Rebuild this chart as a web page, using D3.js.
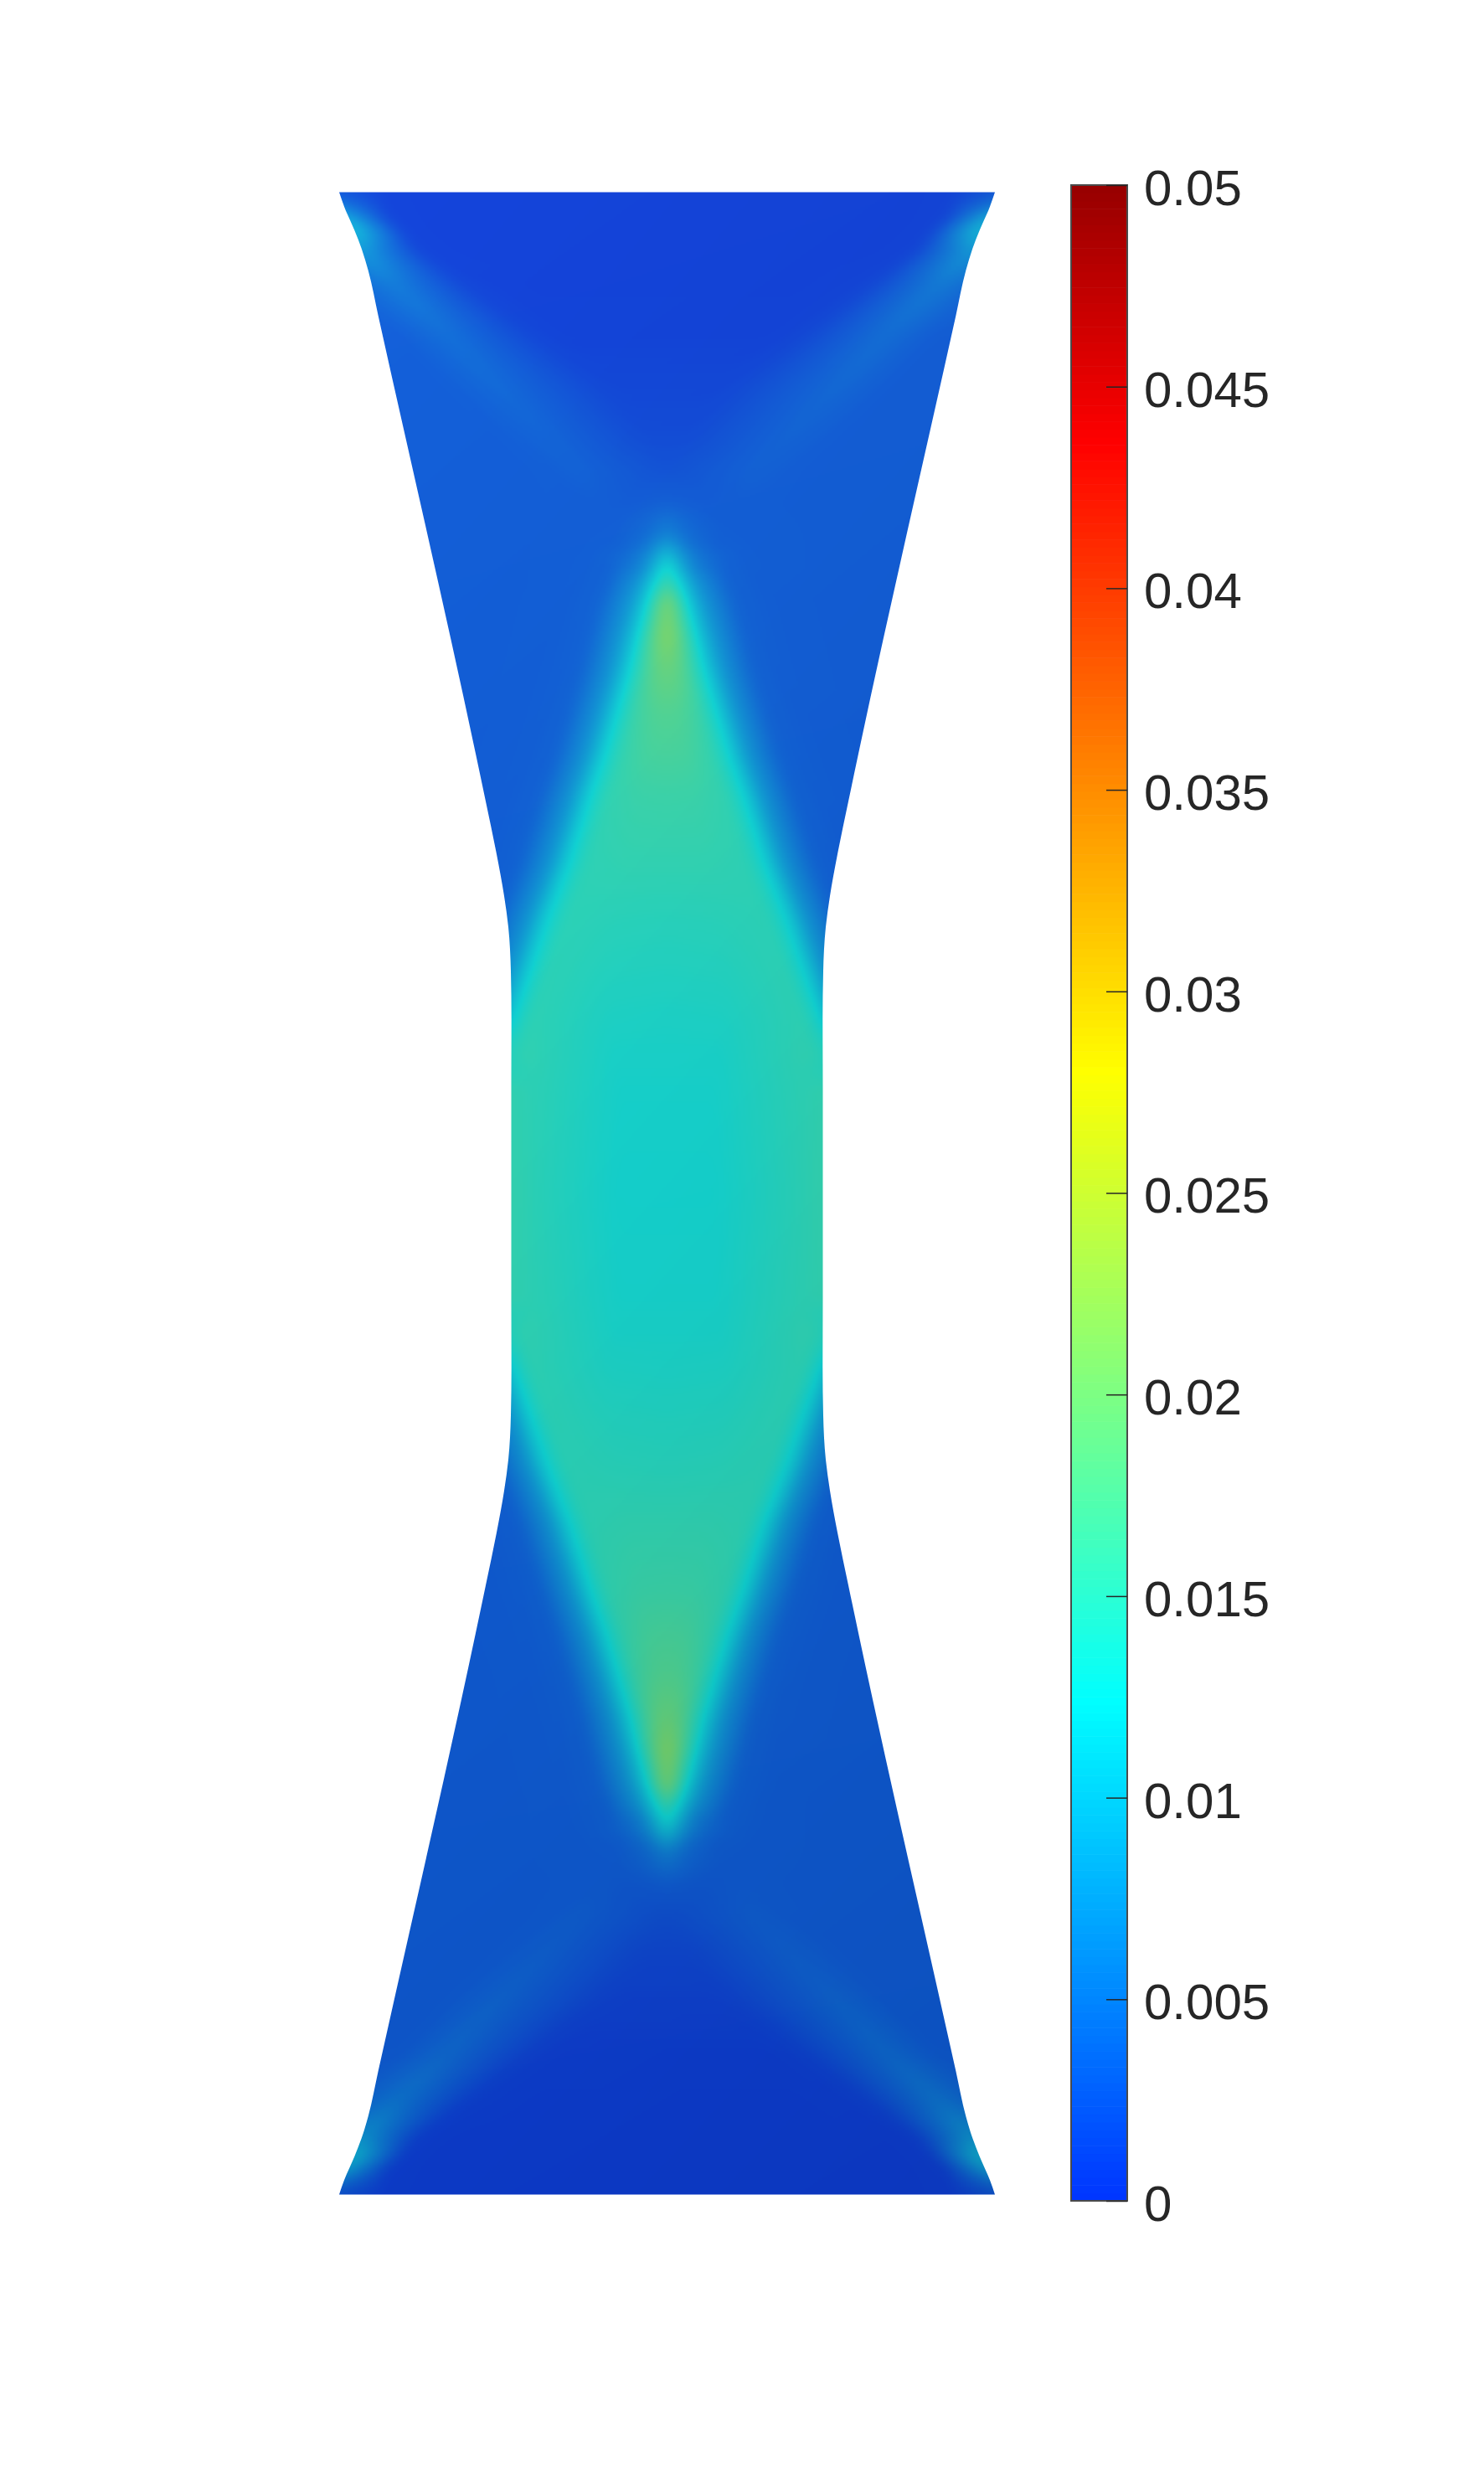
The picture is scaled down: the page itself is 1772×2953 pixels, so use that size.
<!DOCTYPE html>
<html>
<head>
<meta charset="utf-8">
<script src="https://cdn.jsdelivr.net/npm/d3@7"></script>
<style>
html,body{margin:0;padding:0;background:#fff}
svg{display:block}
</style>
</head>
<body>
<svg id="chart" width="1772" height="2953"></svg>
<script>
// ---------- colour bar ----------
const tickValues = [0,0.005,0.01,0.015,0.02,0.025,0.03,0.035,0.04,0.045,0.05];
const tickLabels = ["0","0.005","0.01","0.015","0.02","0.025","0.03","0.035","0.04","0.045","0.05"];
const colormapValues = [0,0.0124,0.0202,0.028,0.0436,0.05];
const colormapColors = ["#0034ff","#00ffff","#80ff80","#ffff00","#ff0000","#960000"];

// ---------- specimen outline (distance from top, half width) ----------
const outlineY = [0,1.72,4.55,6.72,9.35,14.72,67.05,72.75,79.05,84.05,87.75,93.05,98.75,107.05,119.55];
const outlineHalfWidth = [39.15,38.55,37.32,36.48,35.68,34.49,22.85,21.65,20.35,19.45,18.95,18.65,18.58,18.6,18.6];
const specimenHeight = 239.1;

// ---------- field mesh, upper half: row position, node offsets from axis, node values ----------
const meshRowY = [0,3.05,4.55,7.05,11.05,17.05,23.05,29.05,33.05,37.05,39.05,41.05,42.55,44.35,46.55,49.05,53.05,57.05,62.05,67.05,72.05,80.05,87.05,95.05,99.05,103.05,107.05,113.05,119.55];
const meshU = [
[0,6,12,18,24,30,34,43.3,47,60],
[0,6,12,18,24,29,33.3,38.8,42,60],
[0,6,12,18,24,28,31.6,37.3,40,60],
[0,5,10,15,20,25,29.5,36.3,41,60],
[0,4,8,12,16,20,24,32.3,37.3,60],
[0,3,6,9,12,14,16,26,32,60],
[0,1.5,3,4.5,6,7.2,8.5,20.3,26.5,60],
[0,0.6,1.2,1.8,2.4,3,3.5,14.3,20.5,60],
[0,0.8,1.6,2.4,3.2,4.4,5.5,10.3,16.5,60],
[0,0.8,1.5,3,4.5,5.5,6.5,8,15,60],
[0,0.8,1.5,3,6,8.5,9.5,11,17,60],
[0,0.8,1.5,3,6,9,10,12,18,60],
[0,0.8,1.5,3,6,9,10,12,18,60],
[0,0.3,0.6,1.5,3.2,6.6,9.5,12,18,60],
[0,0.3,0.7,1.5,3.4,7.2,10,12.5,18,60],
[0,0.6,1.3,2.4,4.5,8.2,11,14,19,60],
[0,0.8,1.8,3.5,5.7,9.3,12,15,20,60],
[0,1,2.4,4.5,6.7,10.3,13,16,21,60],
[0,1.5,3.8,6,8.2,11.8,14.5,17.5,22,60],
[0,2.5,5.3,7.5,9.7,13.3,16,19,24,60],
[0,3.5,7.1,9.3,11.5,15.1,17.8,20.8,26,60],
[0,4.8,9.6,11.8,14,17.6,20.3,23.3,28,60],
[0,6,12.2,14.5,16.7,20.3,23,26,30,60],
[0,7,15,17.2,19.4,23,25.5,28.5,32,60],
[0,7,16.4,18.6,20.8,24.4,26.5,29.5,33,60],
[0,6.5,17,20.5,22.6,26.2,28.5,31.5,35,60],
[0,6,15,18.6,23,30,34,38,42,60],
[0,6,15,18.6,23,30,34,38,42,60],
[0,6,15,18.6,23,30,34,38,42,60]
];
const meshV = [
[0.0006,0.0006,0.0006,0.0006,0.0006,0.0006,0.0007,0.003,0.003,0.003],
[0.0006,0.0006,0.0006,0.0006,0.0006,0.0006,0.0008,0.0095,0.005,0.005],
[0.0006,0.0006,0.0006,0.0006,0.0006,0.0006,0.0008,0.0105,0.005,0.005],
[0.0006,0.0006,0.0006,0.0006,0.0006,0.0006,0.0008,0.0075,0.0048,0.0045],
[0.0006,0.0006,0.0006,0.0006,0.0006,0.0007,0.0009,0.0052,0.0036,0.003],
[0.0007,0.0007,0.0007,0.0007,0.0007,0.0008,0.001,0.0042,0.0028,0.0028],
[0.001,0.001,0.001,0.001,0.001,0.0011,0.0012,0.0038,0.0028,0.0028],
[0.0014,0.0014,0.0014,0.0014,0.0014,0.0015,0.0015,0.0034,0.0028,0.0028],
[0.002,0.002,0.0021,0.0022,0.0023,0.0025,0.0026,0.0032,0.0028,0.0028],
[0.003,0.003,0.0029,0.0028,0.0027,0.0028,0.0028,0.0029,0.0028,0.0028],
[0.0046,0.0043,0.004,0.0034,0.0029,0.0029,0.0029,0.0029,0.0028,0.0028],
[0.006,0.0055,0.0048,0.0039,0.003,0.0029,0.0029,0.0029,0.0028,0.0028],
[0.009,0.0082,0.0068,0.0045,0.0031,0.003,0.0029,0.0029,0.0028,0.0028],
[0.0124,0.012,0.0114,0.009,0.0055,0.0033,0.003,0.0029,0.0028,0.0028],
[0.0158,0.0152,0.014,0.0122,0.0075,0.0034,0.003,0.0029,0.0028,0.0028],
[0.0202,0.0192,0.0166,0.0122,0.0075,0.0034,0.003,0.0029,0.0028,0.0028],
[0.0212,0.0202,0.0176,0.0122,0.0075,0.0034,0.003,0.0029,0.0028,0.0028],
[0.0192,0.019,0.0168,0.0122,0.0075,0.0034,0.003,0.0029,0.0028,0.0028],
[0.0176,0.0174,0.0158,0.0122,0.0075,0.0034,0.003,0.0029,0.0028,0.0028],
[0.0168,0.0166,0.0152,0.0122,0.0075,0.0034,0.003,0.0029,0.0028,0.0028],
[0.0158,0.0157,0.015,0.0122,0.0075,0.0034,0.003,0.0029,0.0028,0.0028],
[0.015,0.015,0.0147,0.0122,0.0075,0.0034,0.003,0.0029,0.0028,0.0028],
[0.0142,0.0143,0.0146,0.0122,0.0075,0.0034,0.003,0.0029,0.0028,0.0028],
[0.0136,0.0137,0.0147,0.0122,0.0075,0.0034,0.003,0.0029,0.0028,0.0028],
[0.0133,0.0134,0.0148,0.0122,0.0075,0.0034,0.003,0.0029,0.0028,0.0028],
[0.0131,0.0131,0.015,0.0132,0.0085,0.0034,0.003,0.0029,0.0028,0.0028],
[0.0129,0.0129,0.0145,0.015,0.015,0.015,0.015,0.015,0.015,0.015],
[0.0128,0.0128,0.0144,0.0151,0.015,0.015,0.015,0.015,0.015,0.015],
[0.0127,0.0127,0.0143,0.0152,0.015,0.015,0.015,0.015,0.015,0.015]
];

// ---------- scales ----------
const xScale = d3.scaleLinear().domain([-39.15,39.15]).range([405,1188]);
const yScale = d3.scaleLinear().domain([0,specimenHeight]).range([229.5,2620.5]);
const colorScale = d3.scaleLinear().domain(colormapValues).range(colormapColors).interpolate(d3.interpolateRgb).clamp(true);
const barScale = d3.scaleLinear().domain([0,0.05]).range([2628,221]);
const gainScale = d3.scaleLinear().domain([0,specimenHeight]).range([0.776,0.718]);
const liftScale = d3.scaleLinear().domain([0,specimenHeight]).range([20,12]);
const sideScale = d3.scaleLinear().domain([-39.15,39.15]).range([1.01,0.97]);

const svg = d3.select("#chart");

// ---------- outline ----------
const outlineRows = outlineY.map((y,i)=>({y,h:outlineHalfWidth[i]}));
const fullOutline = outlineRows.concat(outlineRows.slice(0,-1).reverse().map(d=>({y:specimenHeight-d.y,h:d.h})));
const outlinePath = d3.area().curve(d3.curveMonotoneY)
  .y(d=>yScale(d.y)).x0(d=>xScale(-d.h)).x1(d=>xScale(d.h))(fullOutline);
svg.append("defs").append("clipPath").attr("id","specimen").append("path").attr("d",outlinePath);

// ---------- field ----------
const allRows = meshRowY.map((y,i)=>({y,u:meshU[i],v:meshV[i]}));
const meshRows = allRows.concat(allRows.slice(0,-1).reverse().map(d=>({y:specimenHeight-d.y,u:d.u,v:d.v})));
const rowBisect = d3.bisector(d=>d.y).right;

const step = 2, px0 = 398, py0 = 224;
const W = Math.ceil((1196-px0)/step), H = Math.ceil((2628-py0)/step);
let field = new Float32Array(W*H);
for(let j=0;j<H;j++){
  const y = Math.max(0,Math.min(specimenHeight,yScale.invert(py0+step*(j+.5))));
  const k = Math.min(meshRows.length-2,Math.max(0,rowBisect(meshRows,y)-1));
  const a = meshRows[k], b = meshRows[k+1], t = (y-a.y)/(b.y-a.y);
  const profile = d3.scaleLinear()
    .domain(a.u.map((u,i)=>u+(b.u[i]-u)*t))
    .range(a.v.map((v,i)=>v+(b.v[i]-v)*t)).clamp(true);
  for(let i=0;i<W;i++){
    field[j*W+i] = profile(Math.abs(xScale.invert(px0+step*(i+.5))));
  }
}
function boxPass(src,w,h,r){
  const out = new Float32Array(w*h), n = 2*r+1;
  for(let j=0;j<h;j++){
    let s = 0;
    for(let i=-r;i<=r;i++) s += src[j*w+Math.max(0,Math.min(w-1,i))];
    for(let i=0;i<w;i++){
      out[j*w+i] = s/n;
      s += src[j*w+Math.min(w-1,i+r+1)] - src[j*w+Math.max(0,i-r)];
    }
  }
  const res = new Float32Array(w*h);
  for(let i=0;i<w;i++){
    let s = 0;
    for(let j=-r;j<=r;j++) s += out[Math.max(0,Math.min(h-1,j))*w+i];
    for(let j=0;j<h;j++){
      res[j*w+i] = s/n;
      s += out[Math.min(h-1,j+r+1)*w+i] - out[Math.max(0,j-r)*w+i];
    }
  }
  return res;
}
for(let p=0;p<3;p++) field = boxPass(field,W,H,3);

const canvas = document.createElement("canvas");
canvas.width = W; canvas.height = H;
const ctx = canvas.getContext("2d");
const img = ctx.createImageData(W,H);
// value -> rgb lookup, from the same colour scale as the bar
const lut = d3.range(1001).map(i=>d3.rgb(colorScale(i/1000*0.05)));
for(let j=0;j<H;j++){
  const y = yScale.invert(py0+step*(j+.5)), g = gainScale(y), l = liftScale(y);
  for(let i=0;i<W;i++){
    const s = sideScale(xScale.invert(px0+step*(i+.5)));
    const c = lut[Math.max(0,Math.min(1000,Math.round(field[j*W+i]/0.05*1000)))];
    const o = (j*W+i)*4;
    img.data[o]   = (c.r*g+l)*s;
    img.data[o+1] = (c.g*g+l)*s;
    img.data[o+2] = (c.b*g+l)*s;
    img.data[o+3] = 255;
  }
}
ctx.putImageData(img,0,0);
svg.append("image").attr("clip-path","url(#specimen)")
  .attr("x",px0).attr("y",py0).attr("width",W*step).attr("height",H*step)
  .attr("preserveAspectRatio","none").attr("href",canvas.toDataURL());

// ---------- colour bar ----------
const barX = 1279, barW = 67;
const levels = d3.range(256).map(i=>i/256*0.05);
svg.append("g").selectAll("rect").data(levels).join("rect")
  .attr("x",barX).attr("width",barW)
  .attr("y",d=>barScale(d+0.05/256)).attr("height",d=>barScale(d)-barScale(d+0.05/256)+0.6)
  .attr("fill",d=>colorScale(d+0.025/256));
svg.append("rect").attr("x",barX).attr("y",barScale(0.05)).attr("width",barW).attr("height",barScale(0)-barScale(0.05))
  .attr("fill","none").attr("stroke","#4a4a4a").attr("stroke-width",2);

const axis = d3.axisRight(barScale).tickValues(tickValues)
  .tickFormat(d=>tickLabels[tickValues.indexOf(d)]).tickSize(-25).tickPadding(20);
const gAxis = svg.append("g").attr("transform",`translate(${barX+barW},0)`).call(axis);
gAxis.select(".domain").remove();
gAxis.selectAll("line").attr("stroke","#262626").attr("stroke-width",1.5);
gAxis.selectAll("text").attr("fill","#262626").attr("dy","0.39em")
  .style("font-family","'Liberation Sans',Arial,sans-serif").style("font-size","60px");
</script>
</body>
</html>
